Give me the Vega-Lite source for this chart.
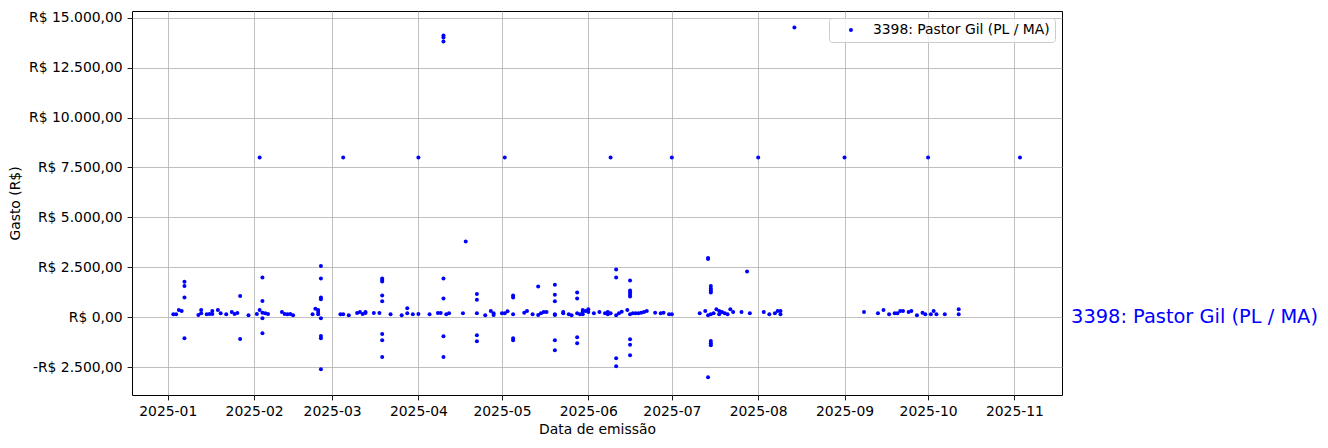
{
  "$schema": "https://vega.github.io/schema/vega-lite/v6.json",
  "autosize": {"type": "none"},
  "padding": {"left": 132, "top": 11, "right": 266, "bottom": 53},
  "width": 930,
  "height": 384,
  "background": "white",
  "config": {
    "view": {"stroke": "black", "strokeWidth": 1},
    "font": "DejaVu Sans",
    "axis": {
      "labelFont": "DejaVu Sans",
      "labelFontSize": 13.9,
      "labelColor": "black",
      "titleFont": "DejaVu Sans",
      "titleFontSize": 13.9,
      "titleFontWeight": "normal",
      "titleColor": "black",
      "gridColor": "#b0b0b0",
      "gridWidth": 0.8,
      "gridOpacity": 1,
      "domain": false,
      "tickColor": "black",
      "tickSize": 4.9,
      "tickWidth": 0.9,
      "labelPadding": 4.9
    }
  },
  "layer": [
    {
      "data": {
        "values": [
          {"date": "2025-01-03", "value": 150},
          {"date": "2025-01-04", "value": 150},
          {"date": "2025-01-05", "value": 367},
          {"date": "2025-01-06", "value": 317},
          {"date": "2025-01-07", "value": 1783},
          {"date": "2025-01-07", "value": 1567},
          {"date": "2025-01-07", "value": 1000},
          {"date": "2025-01-07", "value": -1050},
          {"date": "2025-01-12", "value": 117},
          {"date": "2025-01-13", "value": 200},
          {"date": "2025-01-13", "value": 367},
          {"date": "2025-01-15", "value": 150},
          {"date": "2025-01-16", "value": 167},
          {"date": "2025-01-17", "value": 317},
          {"date": "2025-01-17", "value": 167},
          {"date": "2025-01-19", "value": 367},
          {"date": "2025-01-20", "value": 200},
          {"date": "2025-01-22", "value": 150},
          {"date": "2025-01-24", "value": 267},
          {"date": "2025-01-25", "value": 167},
          {"date": "2025-01-26", "value": 217},
          {"date": "2025-01-27", "value": 1067},
          {"date": "2025-01-27", "value": -1083},
          {"date": "2025-01-30", "value": 100},
          {"date": "2025-02-02", "value": 167},
          {"date": "2025-02-03", "value": 367},
          {"date": "2025-02-03", "value": 8000},
          {"date": "2025-02-04", "value": 2000},
          {"date": "2025-02-04", "value": 817},
          {"date": "2025-02-04", "value": 233},
          {"date": "2025-02-05", "value": 200},
          {"date": "2025-02-06", "value": 167},
          {"date": "2025-02-04", "value": -50},
          {"date": "2025-02-04", "value": -800},
          {"date": "2025-02-11", "value": 267},
          {"date": "2025-02-12", "value": 167},
          {"date": "2025-02-13", "value": 150},
          {"date": "2025-02-14", "value": 167},
          {"date": "2025-02-15", "value": 100},
          {"date": "2025-02-22", "value": 150},
          {"date": "2025-02-23", "value": 433},
          {"date": "2025-02-24", "value": 267},
          {"date": "2025-02-24", "value": 367},
          {"date": "2025-02-24", "value": 150},
          {"date": "2025-02-25", "value": 2567},
          {"date": "2025-02-25", "value": 1950},
          {"date": "2025-02-25", "value": 1000},
          {"date": "2025-02-25", "value": 900},
          {"date": "2025-02-25", "value": -50},
          {"date": "2025-02-25", "value": -933},
          {"date": "2025-02-25", "value": -1050},
          {"date": "2025-02-25", "value": -2600},
          {"date": "2025-03-04", "value": 150},
          {"date": "2025-03-05", "value": 150},
          {"date": "2025-03-05", "value": 8000},
          {"date": "2025-03-07", "value": 100},
          {"date": "2025-03-10", "value": 217},
          {"date": "2025-03-11", "value": 267},
          {"date": "2025-03-12", "value": 167},
          {"date": "2025-03-13", "value": 217},
          {"date": "2025-03-13", "value": 267},
          {"date": "2025-03-16", "value": 217},
          {"date": "2025-03-18", "value": 217},
          {"date": "2025-03-19", "value": 1950},
          {"date": "2025-03-19", "value": 1867},
          {"date": "2025-03-19", "value": 1800},
          {"date": "2025-03-19", "value": 1100},
          {"date": "2025-03-19", "value": 800},
          {"date": "2025-03-19", "value": -833},
          {"date": "2025-03-19", "value": -1150},
          {"date": "2025-03-19", "value": -1983},
          {"date": "2025-03-22", "value": 150},
          {"date": "2025-03-26", "value": 100},
          {"date": "2025-03-28", "value": 450},
          {"date": "2025-03-28", "value": 200},
          {"date": "2025-03-30", "value": 150},
          {"date": "2025-04-01", "value": 167},
          {"date": "2025-04-01", "value": 8000},
          {"date": "2025-04-05", "value": 150},
          {"date": "2025-04-08", "value": 217},
          {"date": "2025-04-09", "value": 217},
          {"date": "2025-04-10", "value": 14100},
          {"date": "2025-04-10", "value": 14000},
          {"date": "2025-04-10", "value": 13800},
          {"date": "2025-04-10", "value": 1950},
          {"date": "2025-04-10", "value": 950},
          {"date": "2025-04-10", "value": -950},
          {"date": "2025-04-10", "value": -1983},
          {"date": "2025-04-11", "value": 150},
          {"date": "2025-04-12", "value": 200},
          {"date": "2025-04-17", "value": 200},
          {"date": "2025-04-18", "value": 3800},
          {"date": "2025-04-22", "value": 200},
          {"date": "2025-04-22", "value": 1167},
          {"date": "2025-04-22", "value": 883},
          {"date": "2025-04-22", "value": -900},
          {"date": "2025-04-22", "value": -1200},
          {"date": "2025-04-25", "value": 100},
          {"date": "2025-04-27", "value": 317},
          {"date": "2025-04-28", "value": 200},
          {"date": "2025-04-28", "value": 117},
          {"date": "2025-05-01", "value": 200},
          {"date": "2025-05-02", "value": 200},
          {"date": "2025-05-02", "value": 8000},
          {"date": "2025-05-03", "value": 300},
          {"date": "2025-05-05", "value": 150},
          {"date": "2025-05-05", "value": 1100},
          {"date": "2025-05-05", "value": 1000},
          {"date": "2025-05-05", "value": -1050},
          {"date": "2025-05-05", "value": -1150},
          {"date": "2025-05-09", "value": 233},
          {"date": "2025-05-10", "value": 317},
          {"date": "2025-05-12", "value": 150},
          {"date": "2025-05-14", "value": 117},
          {"date": "2025-05-14", "value": 1550},
          {"date": "2025-05-15", "value": 200},
          {"date": "2025-05-16", "value": 267},
          {"date": "2025-05-17", "value": 267},
          {"date": "2025-05-20", "value": 150},
          {"date": "2025-05-20", "value": 117},
          {"date": "2025-05-20", "value": 1633},
          {"date": "2025-05-20", "value": 1133},
          {"date": "2025-05-20", "value": 800},
          {"date": "2025-05-20", "value": -1150},
          {"date": "2025-05-20", "value": -1650},
          {"date": "2025-05-23", "value": 267},
          {"date": "2025-05-23", "value": 200},
          {"date": "2025-05-25", "value": 150},
          {"date": "2025-05-26", "value": 100},
          {"date": "2025-05-28", "value": 200},
          {"date": "2025-05-28", "value": 1250},
          {"date": "2025-05-28", "value": 950},
          {"date": "2025-05-28", "value": -1000},
          {"date": "2025-05-28", "value": -1300},
          {"date": "2025-05-29", "value": 150},
          {"date": "2025-05-30", "value": 283},
          {"date": "2025-05-30", "value": 367},
          {"date": "2025-05-30", "value": 150},
          {"date": "2025-05-31", "value": 317},
          {"date": "2025-06-01", "value": 400},
          {"date": "2025-06-01", "value": 267},
          {"date": "2025-06-03", "value": 200},
          {"date": "2025-06-05", "value": 267},
          {"date": "2025-06-07", "value": 200},
          {"date": "2025-06-08", "value": 267},
          {"date": "2025-06-08", "value": 150},
          {"date": "2025-06-09", "value": 200},
          {"date": "2025-06-09", "value": 8000},
          {"date": "2025-06-11", "value": 2400},
          {"date": "2025-06-11", "value": 2000},
          {"date": "2025-06-11", "value": 100},
          {"date": "2025-06-11", "value": -2050},
          {"date": "2025-06-11", "value": -2450},
          {"date": "2025-06-12", "value": 200},
          {"date": "2025-06-13", "value": 283},
          {"date": "2025-06-15", "value": 367},
          {"date": "2025-06-16", "value": 1850},
          {"date": "2025-06-16", "value": 1350},
          {"date": "2025-06-16", "value": 1250},
          {"date": "2025-06-16", "value": 1150},
          {"date": "2025-06-16", "value": 1050},
          {"date": "2025-06-16", "value": 150},
          {"date": "2025-06-16", "value": -1100},
          {"date": "2025-06-16", "value": -1367},
          {"date": "2025-06-16", "value": -1900},
          {"date": "2025-06-17", "value": 200},
          {"date": "2025-06-18", "value": 200},
          {"date": "2025-06-19", "value": 200},
          {"date": "2025-06-20", "value": 233},
          {"date": "2025-06-21", "value": 267},
          {"date": "2025-06-22", "value": 317},
          {"date": "2025-06-25", "value": 233},
          {"date": "2025-06-27", "value": 200},
          {"date": "2025-06-28", "value": 233},
          {"date": "2025-06-30", "value": 150},
          {"date": "2025-07-01", "value": 150},
          {"date": "2025-07-01", "value": 8000},
          {"date": "2025-07-11", "value": 200},
          {"date": "2025-07-13", "value": 317},
          {"date": "2025-07-14", "value": 100},
          {"date": "2025-07-14", "value": 2967},
          {"date": "2025-07-14", "value": 2917},
          {"date": "2025-07-14", "value": -3000},
          {"date": "2025-07-15", "value": 150},
          {"date": "2025-07-15", "value": 1567},
          {"date": "2025-07-15", "value": 1450},
          {"date": "2025-07-15", "value": 1350},
          {"date": "2025-07-15", "value": 1250},
          {"date": "2025-07-15", "value": -1183},
          {"date": "2025-07-15", "value": -1300},
          {"date": "2025-07-15", "value": -1400},
          {"date": "2025-07-16", "value": 200},
          {"date": "2025-07-17", "value": 400},
          {"date": "2025-07-18", "value": 150},
          {"date": "2025-07-18", "value": 317},
          {"date": "2025-07-19", "value": 267},
          {"date": "2025-07-20", "value": 200},
          {"date": "2025-07-21", "value": 150},
          {"date": "2025-07-22", "value": 400},
          {"date": "2025-07-23", "value": 267},
          {"date": "2025-07-26", "value": 267},
          {"date": "2025-07-28", "value": 2300},
          {"date": "2025-07-29", "value": 200},
          {"date": "2025-08-01", "value": 8000},
          {"date": "2025-08-03", "value": 267},
          {"date": "2025-08-05", "value": 150},
          {"date": "2025-08-07", "value": 200},
          {"date": "2025-08-08", "value": 317},
          {"date": "2025-08-09", "value": 317},
          {"date": "2025-08-09", "value": 150},
          {"date": "2025-08-14", "value": 14500},
          {"date": "2025-09-01", "value": 8000},
          {"date": "2025-09-08", "value": 267},
          {"date": "2025-09-13", "value": 200},
          {"date": "2025-09-15", "value": 367},
          {"date": "2025-09-17", "value": 150},
          {"date": "2025-09-19", "value": 200},
          {"date": "2025-09-20", "value": 200},
          {"date": "2025-09-21", "value": 317},
          {"date": "2025-09-22", "value": 317},
          {"date": "2025-09-24", "value": 267},
          {"date": "2025-09-25", "value": 317},
          {"date": "2025-09-27", "value": 100},
          {"date": "2025-09-29", "value": 233},
          {"date": "2025-09-30", "value": 150},
          {"date": "2025-10-01", "value": 8000},
          {"date": "2025-10-02", "value": 150},
          {"date": "2025-10-03", "value": 317},
          {"date": "2025-10-04", "value": 150},
          {"date": "2025-10-07", "value": 150},
          {"date": "2025-10-12", "value": 400},
          {"date": "2025-10-12", "value": 150},
          {"date": "2025-11-03", "value": 8000}
        ]
      },
      "mark": {"type": "point", "filled": true, "size": 16, "opacity": 1},
      "encoding": {
        "x": {
          "field": "date",
          "type": "temporal",
          "title": "Data de emissão",
          "scale": {
            "type": "utc",
            "domain": [
              {"year": 2024, "month": 12, "date": 19, "hours": 4, "utc": true},
              {"year": 2025, "month": 11, "date": 18, "hours": 2, "utc": true}
            ]
          },
          "axis": {
            "format": "%Y-%m",
            "tickCount": {"interval": "month", "step": 1},
            "labelAngle": 0,
            "titlePadding": 4
          }
        },
        "y": {
          "field": "value",
          "type": "quantitative",
          "title": "Gasto (R$)",
          "scale": {"domain": [-3885, 15330], "nice": false, "zero": false},
          "axis": {
            "values": [-2500, 0, 2500, 5000, 7500, 10000, 12500, 15000],
            "labelExpr": "(datum.value < 0 ? '-R$ ' : 'R$ ') + replace(replace(replace(format(abs(datum.value), ',.2f'), ',', '#'), '.', ','), '#', '.')",
            "titlePadding": 6
          }
        },
        "color": {
          "datum": "3398: Pastor Gil (PL / MA)",
          "scale": {"range": ["#0000ff"]},
          "legend": {
            "title": null,
            "orient": "top-right",
            "offset": 7,
            "padding": 5,
            "strokeColor": "#cccccc",
            "fillColor": "rgba(255,255,255,0.8)",
            "cornerRadius": 3,
            "labelFont": "DejaVu Sans",
            "labelFontSize": 13.9,
            "labelColor": "black",
            "labelLimit": 0,
            "symbolType": "circle",
            "symbolSize": 16,
            "symbolStrokeWidth": 0,
            "symbolOffset": 10,
            "labelOffset": 15
          }
        }
      }
    },
    {
      "data": {
        "values": [
          {"date": "2025-11-21T08:00:00Z", "value": 0, "label": "3398: Pastor Gil (PL / MA)"}
        ]
      },
      "mark": {
        "type": "text",
        "align": "left",
        "baseline": "middle",
        "font": "DejaVu Sans",
        "fontSize": 19.4,
        "color": "#0000ff"
      },
      "encoding": {
        "x": {"field": "date", "type": "temporal"},
        "y": {"field": "value", "type": "quantitative"},
        "text": {"field": "label"}
      }
    }
  ]
}
